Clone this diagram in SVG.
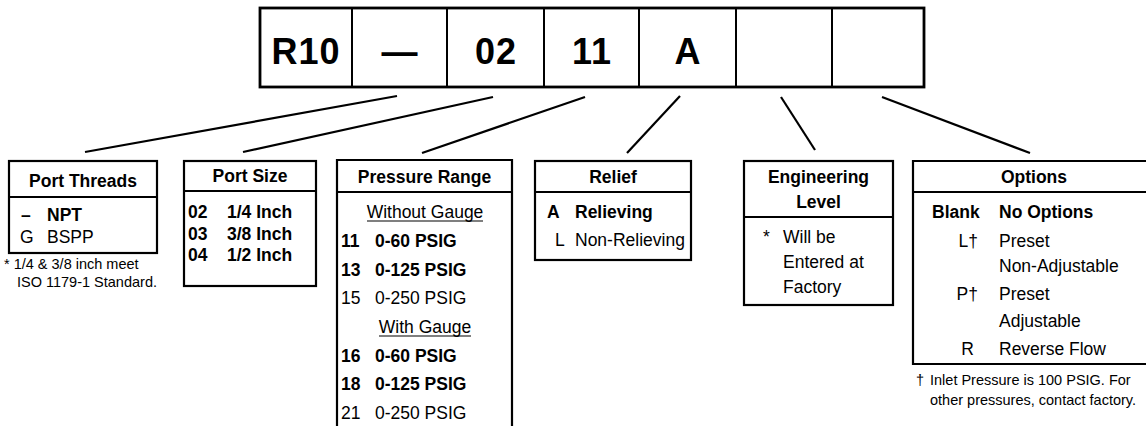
<svg xmlns="http://www.w3.org/2000/svg" width="1146" height="426" viewBox="0 0 1146 426">
<style>
text{font-family:"Liberation Sans",Arial,sans-serif;font-size:17.5px;fill:#000}
.b{font-weight:bold}
.h{font-weight:bold;text-anchor:middle}
.big{font-weight:bold;font-size:36px;text-anchor:middle;letter-spacing:1px}
.fn{font-size:14.5px}
.e{text-anchor:end}
.box{fill:none;stroke:#000;stroke-width:2.2}
.conn{stroke:#000;stroke-width:2.2;fill:none}
.u{stroke:#000;stroke-width:1.2}
</style>
<rect width="1146" height="426" fill="#fff"/>
<g id="code">
<rect x="260" y="8" width="664" height="79" fill="none" stroke="#000" stroke-width="2.8"/>
<path d="M352,8V86M447,8V86M544,8V86M639,8V86M736,8V86M832,8V86" stroke="#000" stroke-width="2"/>
<text class="big" x="306" y="64">R10</text>
<text class="big" x="400" y="64">—</text>
<text class="big" x="496" y="64">02</text>
<text class="big" x="592" y="64">11</text>
<text class="big" x="688" y="64">A</text>
</g>
<g id="connectors">
<line class="conn" x1="397" y1="96" x2="85" y2="152"/>
<line class="conn" x1="493" y1="97" x2="243" y2="152"/>
<line class="conn" x1="585" y1="97" x2="422" y2="153"/>
<line class="conn" x1="680" y1="96" x2="627" y2="153"/>
<line class="conn" x1="781" y1="97" x2="815" y2="150"/>
<line class="conn" x1="882" y1="97" x2="1030" y2="153"/>
</g>
<g id="port-threads">
<rect class="box" x="9" y="161" width="148" height="92"/>
<line class="box" x1="9" y1="197" x2="157" y2="197"/>
<text class="h" x="83" y="187">Port Threads</text>
<text class="b" x="21" y="221">–</text>
<text class="b" x="47" y="221">NPT</text>
<text x="20" y="243">G</text>
<text x="47" y="243">BSPP</text>
<text class="fn" x="4" y="269">* 1/4 &amp; 3/8 inch meet</text>
<text class="fn" x="17" y="287">ISO 1179-1 Standard.</text>
</g>
<g id="port-size">
<rect class="box" x="184" y="161" width="132" height="125"/>
<line class="box" x1="184" y1="191" x2="316" y2="191"/>
<text class="h" x="250" y="182">Port Size</text>
<text class="b" x="188" y="218">02</text>
<text class="b" x="227" y="218">1/4 Inch</text>
<text class="b" x="188" y="240">03</text>
<text class="b" x="227" y="240">3/8 Inch</text>
<text class="b" x="188" y="261">04</text>
<text class="b" x="227" y="261">1/2 Inch</text>
</g>
<g id="pressure-range">
<path class="box" d="M337,430V160H512V430M337,192H512"/>
<text class="h" x="424.5" y="183">Pressure Range</text>
<text x="425" y="218" text-anchor="middle">Without Gauge</text>
<line class="u" x1="367" y1="221" x2="483" y2="221"/>
<text class="b" x="341" y="247">11</text>
<text class="b" x="375" y="247">0-60 PSIG</text>
<text class="b" x="341" y="276">13</text>
<text class="b" x="375" y="276">0-125 PSIG</text>
<text x="341" y="304">15</text>
<text x="375" y="304">0-250 PSIG</text>
<text x="425" y="333" text-anchor="middle">With Gauge</text>
<line class="u" x1="379" y1="336" x2="471" y2="336"/>
<text class="b" x="341" y="362">16</text>
<text class="b" x="375" y="362">0-60 PSIG</text>
<text class="b" x="341" y="390">18</text>
<text class="b" x="375" y="390">0-125 PSIG</text>
<text x="341" y="419">21</text>
<text x="375" y="419">0-250 PSIG</text>
</g>
<g id="relief">
<rect class="box" x="535" y="161" width="156" height="99"/>
<line class="box" x1="535" y1="192" x2="691" y2="192"/>
<text class="h" x="613" y="183">Relief</text>
<text class="b" x="547" y="218">A</text>
<text class="b" x="575" y="218">Relieving</text>
<text x="555" y="246">L</text>
<text x="575" y="246">Non-Relieving</text>
</g>
<g id="engineering-level">
<rect class="box" x="744" y="161" width="149" height="144"/>
<line class="box" x1="744" y1="217" x2="893" y2="217"/>
<text class="h" x="818.5" y="183">Engineering</text>
<text class="h" x="818.5" y="208">Level</text>
<text x="763" y="243">*</text>
<text x="783" y="243">Will be</text>
<text x="783" y="268">Entered at</text>
<text x="783" y="293">Factory</text>
</g>
<g id="options">
<path class="box" d="M1150,161H913V364H1150M913,192H1150"/>
<text class="h" x="1034" y="183">Options</text>
<text class="b" x="932" y="218">Blank</text>
<text class="b" x="999" y="218">No Options</text>
<text class="e" x="978" y="247">L†</text>
<text x="999" y="247">Preset</text>
<text x="999" y="272">Non-Adjustable</text>
<text class="e" x="978" y="300">P†</text>
<text x="999" y="300">Preset</text>
<text x="999" y="327">Adjustable</text>
<text class="e" x="974" y="355">R</text>
<text x="999" y="355">Reverse Flow</text>
<text class="fn" x="916" y="385">†</text>
<text class="fn" x="930" y="385">Inlet Pressure is 100 PSIG. For</text>
<text class="fn" x="930" y="405">other pressures, contact factory.</text>
</g>
</svg>
